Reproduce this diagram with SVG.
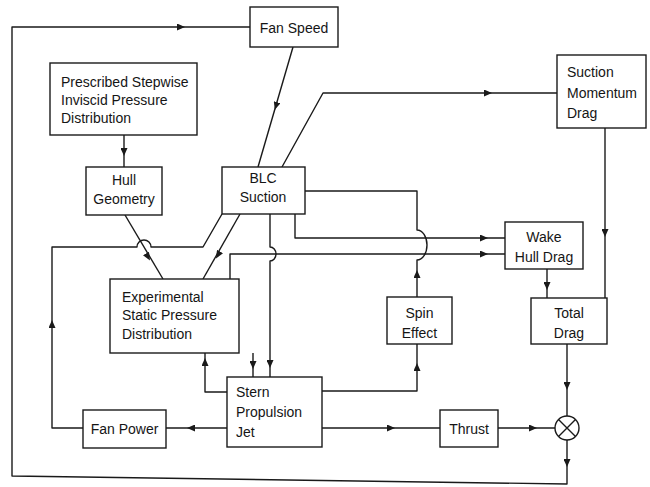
<svg xmlns="http://www.w3.org/2000/svg" width="650" height="487" viewBox="0 0 650 487">
<style>
  .bg{fill:#fff}
  .box{fill:#fff;stroke:#1a1a1a;stroke-width:1.4}
  .ln{fill:none;stroke:#1a1a1a;stroke-width:1.4;stroke-linejoin:round}
  .ar{fill:none;stroke:none;marker-end:url(#ah)}
  text{font-family:"Liberation Sans",Arial,sans-serif;font-size:14px;fill:#151515}
  .c{text-anchor:middle}
</style>
<defs>
  <marker id="ah" viewBox="0 0 8 7" refX="4" refY="3.5" markerWidth="8" markerHeight="7" markerUnits="userSpaceOnUse" orient="auto">
    <path d="M0,0 L8,3.5 L0,7 z" fill="#1a1a1a"/>
  </marker>
</defs>
<rect class="bg" width="650" height="487"/>

<g id="connectors">
  <path class="ln" d="M567 440 L567 484 L12 476 L12 27 L250 27"/>
  <path class="ar" d="M179 27 L181 27"/>
  <path class="ar" d="M567 461 L567 463"/>

  <path class="ln" d="M293 47 L258 167"/>
  <path class="ar" d="M276.6 104 L276 106"/>

  <path class="ln" d="M282 167 L323 93 L557 93"/>
  <path class="ar" d="M486 93 L488 93"/>

  <path class="ln" d="M124 135 L124 167"/>
  <path class="ar" d="M124 150 L124 152"/>

  <path class="ln" d="M605 128 L605 298"/>
  <path class="ar" d="M605 231 L605 233"/>

  <path class="ln" d="M547 269 L547 298"/>
  <path class="ar" d="M547 284 L547 286"/>

  <path class="ln" d="M125 215 L163 279"/>
  <path class="ar" d="M147 255.3 L148 257"/>

  <path class="ln" d="M240 214 L203 279"/>
  <path class="ar" d="M219 253.3 L218 255"/>

  <path class="ln" d="M83 428 L52 428 L52 247 L137 247 A7 7 0 0 1 151 247 L203 247 L222 214"/>
  <path class="ar" d="M52 326 L52 324"/>

  <path class="ln" d="M305 191 L417 191 L417 230 A10 15 0 0 1 417 260 L417 297"/>
  <path class="ar" d="M417 276 L417 274"/>

  <path class="ln" d="M295 214 L295 238 L505 238"/>
  <path class="ar" d="M482 238 L484 238"/>

  <path class="ln" d="M230 279 L230 254 L505 254"/>
  <path class="ar" d="M482 254 L484 254"/>

  <path class="ln" d="M270 214 L270 247 A6 7 0 0 1 270 261 L270 377"/>
  <path class="ar" d="M270 362 L270 364"/>

  <path class="ln" d="M253 353 L253 377"/>
  <path class="ar" d="M253 363 L253 365"/>

  <path class="ln" d="M227 392 L205 392 L205 353"/>
  <path class="ar" d="M205 364 L205 362"/>

  <path class="ln" d="M227 428 L166 428"/>
  <path class="ar" d="M193 428 L191 428"/>

  <path class="ln" d="M322 391 L417 391 L417 344"/>
  <path class="ar" d="M417 369 L417 367"/>

  <path class="ln" d="M322 428 L440 428"/>
  <path class="ar" d="M389 428 L391 428"/>

  <path class="ln" d="M498 428 L555 428"/>
  <path class="ar" d="M531 428 L533 428"/>

  <path class="ln" d="M567 344 L567 416"/>
  <path class="ar" d="M567 384 L567 386"/>
</g>

<g id="fan-speed">
  <rect class="box" x="250" y="7" width="88" height="40"/>
  <text class="c" x="294" y="33">Fan Speed</text>
</g>
<g id="prescribed">
  <rect class="box" x="50" y="63" width="147" height="72"/>
  <text x="61" y="87">Prescribed Stepwise</text>
  <text x="61" y="105">Inviscid Pressure</text>
  <text x="61" y="123">Distribution</text>
</g>
<g id="hull-geometry">
  <rect class="box" x="86" y="167" width="76" height="48"/>
  <text class="c" x="124" y="185">Hull</text>
  <text class="c" x="124" y="204">Geometry</text>
</g>
<g id="blc-suction">
  <rect class="box" x="222" y="167" width="83" height="47"/>
  <text class="c" x="263" y="183">BLC</text>
  <text class="c" x="263" y="202">Suction</text>
</g>
<g id="suction-momentum-drag">
  <rect class="box" x="557" y="55" width="89" height="73"/>
  <text x="567" y="77">Suction</text>
  <text x="567" y="98">Momentum</text>
  <text x="567" y="118">Drag</text>
</g>
<g id="wake-hull-drag">
  <rect class="box" x="505" y="222" width="78" height="47"/>
  <text class="c" x="544" y="242">Wake</text>
  <text class="c" x="544" y="262">Hull Drag</text>
</g>
<g id="experimental">
  <rect class="box" x="110" y="279" width="129" height="74"/>
  <text x="122" y="302">Experimental</text>
  <text x="122" y="320">Static Pressure</text>
  <text x="122" y="339">Distribution</text>
</g>
<g id="spin-effect">
  <rect class="box" x="387" y="297" width="65" height="47"/>
  <text class="c" x="419.5" y="318">Spin</text>
  <text class="c" x="419.5" y="338">Effect</text>
</g>
<g id="total-drag">
  <rect class="box" x="531" y="298" width="76" height="46"/>
  <text class="c" x="569" y="318">Total</text>
  <text class="c" x="569" y="338">Drag</text>
</g>
<g id="stern-propulsion-jet">
  <rect class="box" x="227" y="377" width="95" height="70"/>
  <text x="236" y="397">Stern</text>
  <text x="236" y="417">Propulsion</text>
  <text x="236" y="437">Jet</text>
</g>
<g id="fan-power">
  <rect class="box" x="83" y="410" width="83" height="38"/>
  <text class="c" x="124.5" y="434">Fan Power</text>
</g>
<g id="thrust">
  <rect class="box" x="440" y="410" width="58" height="37"/>
  <text class="c" x="469" y="434">Thrust</text>
</g>
<g id="summing-junction">
  <circle class="box" cx="567" cy="428" r="12"/>
  <path class="ln" d="M558.5 419.5 L575.5 436.5 M575.5 419.5 L558.5 436.5"/>
</g>
</svg>
